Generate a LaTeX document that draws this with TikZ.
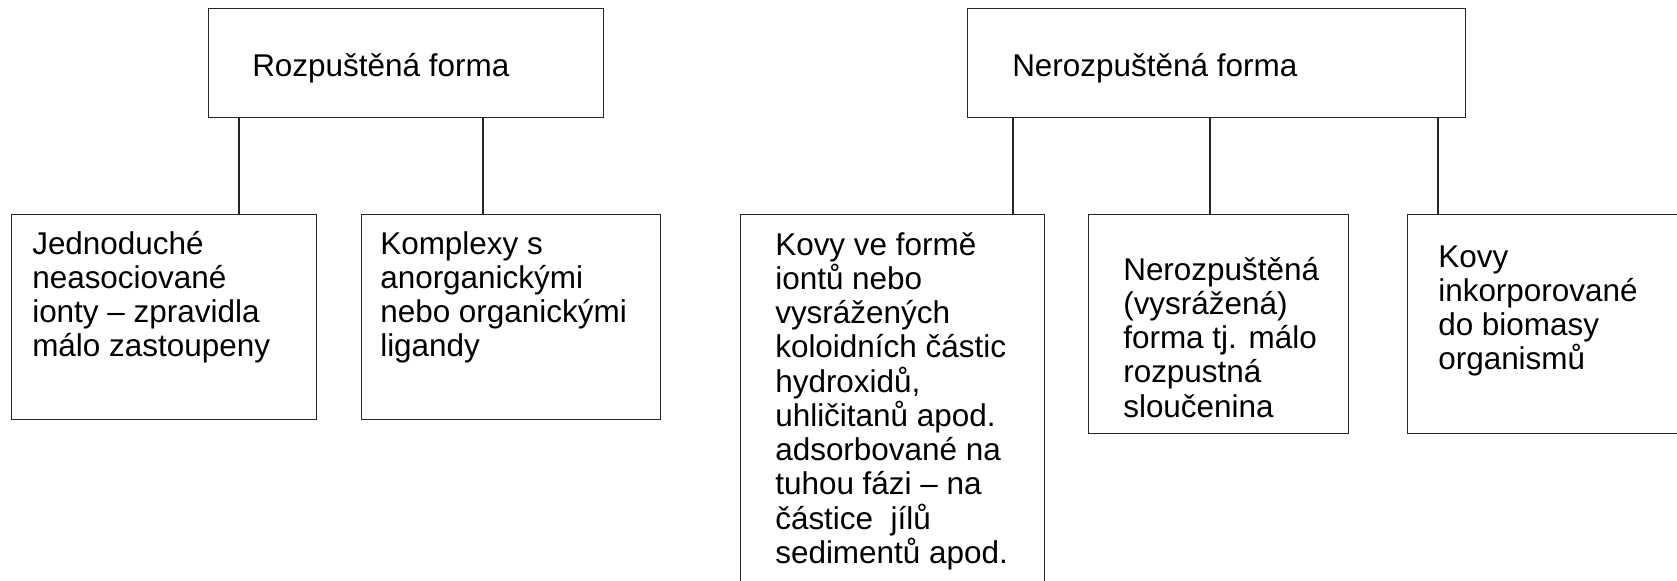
\documentclass[tikz,border=0pt]{standalone}
\usepackage{fontspec}
\setmainfont{Liberation Sans}
\tikzset{
  boxshape/.style={draw=black!85, line width=1pt, rectangle, anchor=north west, inner sep=0pt},
  conn/.style={draw=black!85, line width=1pt},
  txt/.style={anchor=base west, inner sep=0pt, font=\fontsize{23.6}{25.7}\selectfont}
}
\newcommand{\lines}[1]{\parbox[t]{260pt}{\raggedright #1}}
\begin{document}
\begin{tikzpicture}[x=0.75pt,y=-0.75pt]
\useasboundingbox (0,0) rectangle (1677,581);
\clip (0,0) rectangle (1677,581);
% top boxes
\node[boxshape, minimum width=296.25pt, minimum height=81.75pt] (t1) at (208,8) {};
\node[boxshape, minimum width=373.5pt, minimum height=81.75pt] (t2) at (967,8) {};
\node[txt] (t1txt) at (252,77) {Rozpuštěná forma};
\node[txt] (t2txt) at (1012,77) {Nerozpuštěná forma};
% bottom boxes
\node[boxshape, minimum width=228.75pt, minimum height=153.75pt] (b1) at (11,214) {};
\node[boxshape, minimum width=224.25pt, minimum height=153.75pt] (b2) at (361,214) {};
\node[boxshape, minimum width=228pt, minimum height=300pt] (b3) at (740,214) {};
\node[boxshape, minimum width=195pt, minimum height=164.25pt] (b4) at (1088,214) {};
\node[boxshape, minimum width=225pt, minimum height=164.25pt] (b5) at (1407,214) {};
% texts
\node[txt] (b1txt) at (32,254) {\lines{Jednoduché\\neasociované\\ionty – zpravidla\\málo zastoupeny}};
\node[txt] (b2txt) at (380,254) {\lines{Komplexy s\\anorganickými\\nebo organickými\\ligandy}};
\node[txt] (b3txt) at (775,255) {\lines{Kovy ve formě\\iontů nebo\\vysrážených\\koloidních částic\\hydroxidů,\\uhličitanů apod.\\adsorbované na\\tuhou fázi – na\\částice\ \ jílů\\sedimentů apod.}};
\node[txt] (b4txt) at (1123,280) {\lines{Nerozpuštěná\\(vysrážená)\\forma tj. málo\\rozpustná\\sloučenina}};
\node[txt] (b5txt) at (1438,267) {\lines{Kovy\\inkorporované\\do biomasy\\organismů}};
% connectors
\coordinate (c1) at ([xshift=171pt]b1.north west);
\coordinate (c2) at ([xshift=91.5pt]b2.north west);
\coordinate (c3) at ([xshift=204.75pt]b3.north west);
\coordinate (c4) at ([xshift=91.5pt]b4.north west);
\coordinate (c5) at ([xshift=23.25pt]b5.north west);
\draw[conn] (c1) -- (c1 |- t1.south);
\draw[conn] (c2) -- (c2 |- t1.south);
\draw[conn] (c3) -- (c3 |- t2.south);
\draw[conn] (c4) -- (c4 |- t2.south);
\draw[conn] (c5) -- (c5 |- t2.south);
\end{tikzpicture}
\end{document}
